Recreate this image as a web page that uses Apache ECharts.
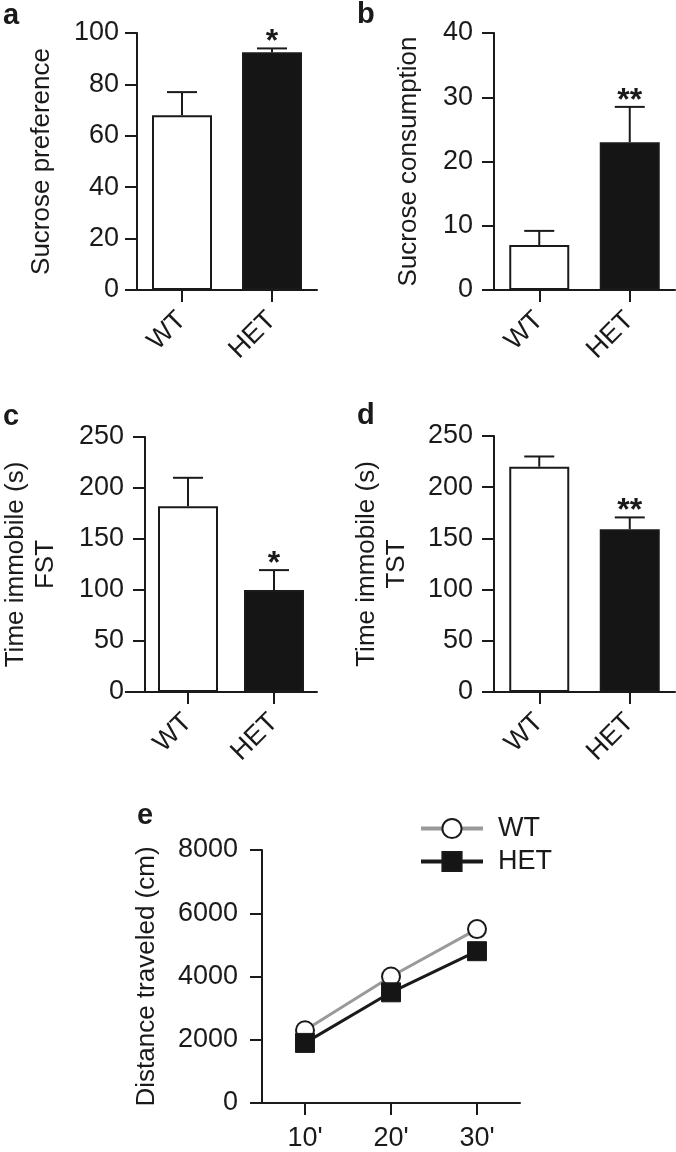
<!DOCTYPE html>
<html>
<head>
<meta charset="utf-8">
<script src="https://cdn.jsdelivr.net/npm/echarts@6/dist/echarts.min.js"></script>
<style>
  html, body { margin: 0; padding: 0; background: #fff; }
  #chart { width: 676px; height: 1152px; }
</style>
</head>
<body>
<div id="chart"></div>
<script>
// values (mean, SEM, significance marks)
const groups = ['WT', 'HET']
const prefMean = [68, 92.5]
const prefSem = [9, 1.5]
const prefStars = ['', '*']
const consMean = [7, 23]
const consSem = [2.2, 5.5]
const consStars = ['', '**']
const fstMean = [182, 100]
const fstSem = [28, 19.5]
const fstStars = ['', '*']
const tstMean = [220, 159]
const tstSem = [10, 11.5]
const tstStars = ['', '**']
const timePoints = ["10'", "20'", "30'"]
const wtDist = [2300, 4000, 5500]
const hetDist = [1900, 3500, 4800]

const FONT = "'Liberation Sans', Arial, Helvetica, sans-serif"
const INK = '#1a1a1a'

const chart = echarts.init(document.getElementById('chart'))

// grid boxes for the five panels
const panels = [
  { left: 137, top: 33, width: 180, height: 257, max: 100, interval: 20, name: 'Sucrose preference', nameGap: 80, labelMargin: 18,
    mean: prefMean, sem: prefSem, stars: prefStars },
  { left: 494, top: 33, width: 181, height: 257, max: 40, interval: 10, name: 'Sucrose consumption', nameGap: 70, labelMargin: 21,
    mean: consMean, sem: consSem, stars: consStars },
  { left: 137, top: 437, width: 180, height: 255, max: 250, interval: 50, name: 'Time immobile (s)\nFST', nameGap: 84, labelMargin: 21,
    mean: fstMean, sem: fstSem, stars: fstStars },
  { left: 494, top: 436, width: 181, height: 256, max: 250, interval: 50, name: 'Time immobile (s)\nTST', nameGap: 82, labelMargin: 21,
    mean: tstMean, sem: tstSem, stars: tstStars }
]
const lineGrid = { left: 262, top: 850, width: 258, height: 258 }

const axisLine = { show: true, lineStyle: { color: INK, width: 2 } }
const axisTick = { show: true, length: 12, lineStyle: { color: INK, width: 2 } }
const labelStyle = { fontFamily: FONT, fontSize: 27, color: INK }
const nameStyle = { fontFamily: FONT, fontSize: 26, color: INK, lineHeight: 30 }

const grid = []
const xAxis = []
const yAxis = []
const series = []

panels.forEach((p, i) => {
  grid.push({ left: p.left, top: p.top, width: p.width, height: p.height })
  xAxis.push({
    type: 'category', gridIndex: i, data: groups,
    axisLine, axisTick: Object.assign({ alignWithLabel: true }, axisTick),
    axisLabel: Object.assign({ rotate: 45, margin: 26 }, labelStyle),
    splitLine: { show: false }
  })
  yAxis.push({
    type: 'value', gridIndex: i, min: 0, max: p.max, interval: p.interval,
    name: p.name, nameLocation: 'middle', nameGap: p.nameGap,
    nameTextStyle: nameStyle,
    axisLine, axisTick,
    axisLabel: Object.assign({ margin: p.labelMargin }, labelStyle),
    splitLine: { show: false }
  })
  series.push({
    type: 'bar', xAxisIndex: i, yAxisIndex: i, barWidth: 60, silent: true,
    data: p.mean.map((v, k) => ({
      value: v,
      itemStyle: { color: k === 0 ? '#ffffff' : '#151515', borderColor: INK, borderWidth: 2 }
    }))
  })
  series.push({
    type: 'custom', xAxisIndex: i, yAxisIndex: i, silent: true, z: 5,
    data: p.mean.map((v, k) => [k, v, p.sem[k]]),
    encode: { x: 0, y: 1 },
    renderItem: (params, api) => {
      const k = api.value(0)
      const m = api.value(1)
      const s = api.value(2)
      const base = api.coord([k, m])
      const top = api.coord([k, m + s])
      const stroke = { stroke: INK, lineWidth: 2 }
      return {
        type: 'group',
        children: [
          { type: 'line', shape: { x1: base[0], y1: base[1], x2: top[0], y2: top[1] }, style: stroke },
          { type: 'line', shape: { x1: top[0] - 15, y1: top[1], x2: top[0] + 15, y2: top[1] }, style: stroke },
          { type: 'text', style: { text: p.stars[k], x: top[0], y: top[1] - 6, align: 'center', verticalAlign: 'middle',
            font: 'bold 32px ' + FONT, fill: INK } }
        ]
      }
    }
  })
})

// panel e: distance traveled
grid.push(lineGrid)
xAxis.push({
  type: 'category', gridIndex: 4, data: timePoints,
  axisLine, axisTick: Object.assign({ alignWithLabel: true }, axisTick),
  axisLabel: Object.assign({ margin: 22 }, labelStyle)
})
yAxis.push({
  type: 'value', gridIndex: 4, min: 0, max: 8000, interval: 2000,
  name: 'Distance traveled (cm)', nameLocation: 'middle', nameGap: 100,
  nameTextStyle: nameStyle,
  axisLine, axisTick,
  axisLabel: Object.assign({ margin: 24, formatter: v => String(v) }, labelStyle),
  splitLine: { show: false }
})
series.push({
  name: 'WT', type: 'line', xAxisIndex: 4, yAxisIndex: 4, data: wtDist,
  symbol: 'circle', symbolSize: 18,
  lineStyle: { color: '#9a9a9a', width: 3 },
  itemStyle: { color: '#ffffff', borderColor: INK, borderWidth: 2 }
})
series.push({
  name: 'HET', type: 'line', xAxisIndex: 4, yAxisIndex: 4, data: hetDist,
  symbol: 'rect', symbolSize: 19, z: 3,
  lineStyle: { color: INK, width: 3 },
  itemStyle: { color: '#151515', borderColor: INK, borderWidth: 1 }
})

const panelLabel = (id, text, x, y) => ({
  type: 'text', id, left: x, top: y,
  style: { text, font: 'bold 29px ' + FONT, fill: INK }
})

chart.setOption({
  animation: false,
  grid, xAxis, yAxis, series,
  legend: {
    data: ['WT', 'HET'], orient: 'vertical', left: 414, top: 810,
    itemWidth: 62, itemHeight: 24, itemGap: 6,
    lineStyle: { width: 4 },
    textStyle: { fontFamily: FONT, fontSize: 27, color: INK, padding: [0, 0, 0, 10] }
  },
  graphic: [
    panelLabel('la', 'a', 3, 1),
    panelLabel('lb', 'b', 357, 0),
    panelLabel('lc', 'c', 3, 402),
    panelLabel('ld', 'd', 357, 401),
    panelLabel('le', 'e', 137, 801)
  ]
})

// x axis lines stick out 12px to the left of the y axis, as in the figure
const stubs = grid.map((g, i) => {
  const p = chart.convertToPixel({ xAxisIndex: i, yAxisIndex: i }, [0, 0])
  return {
    type: 'line', id: 'stub' + i,
    shape: { x1: g.left - 12, y1: p[1], x2: g.left, y2: p[1] },
    style: { stroke: INK, lineWidth: 2 }
  }
})
chart.setOption({ graphic: stubs })
</script>
</body>
</html>
